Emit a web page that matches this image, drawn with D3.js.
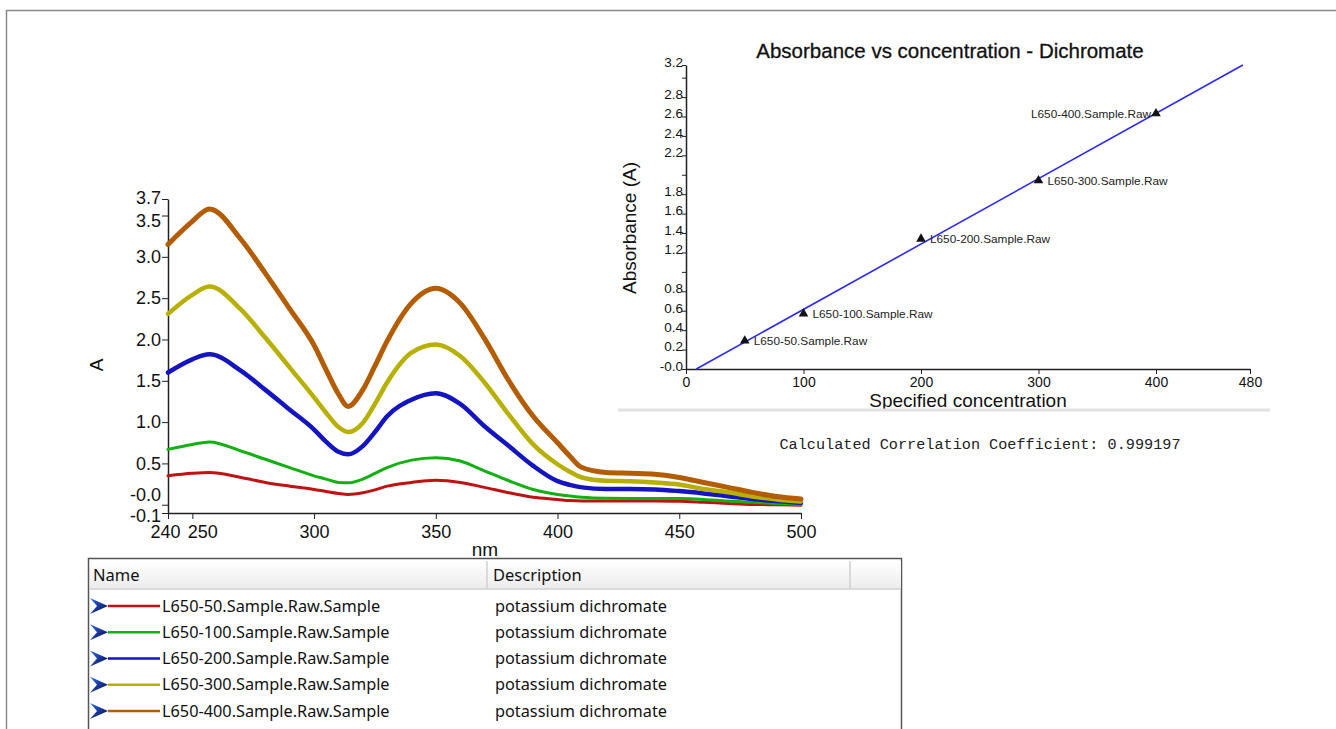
<!DOCTYPE html>
<meta charset="utf-8">
<style>
body { margin: 0; background: #fff; }
svg { display: block; font-family: "Liberation Sans", Arial, sans-serif; }
.axis path, .axis line { stroke: #222; }
.axis text { fill: #111; }
.spec { fill: none; stroke-linejoin: round; stroke-linecap: round; }
.tbl { font-family: "Noto Sans", sans-serif; fill: #111; }
</style>
<head>
  <script src="https://d3js.org/d3.v7.min.js"></script>
</head>
<svg width="1336" height="729"></svg>
<script>

// ---- spectrum data (wavelength nm -> absorbance) ----
var wavelengths = [240,250,257,270,280,290,300,305,310,314,320,325,330,340,350,360,370,380,390,400,405,410,420,430,440,450,460,470,480,490,500];
var a50  = [0.35,0.38,0.39,0.33,0.27,0.225,0.185,0.16,0.137,0.125,0.145,0.18,0.225,0.27,0.295,0.27,0.21,0.145,0.09,0.064,0.05,0.044,0.044,0.044,0.044,0.042,0.03,0.016,0.004,0.0,-0.005];
var a100 = [0.67,0.73,0.76,0.65,0.55,0.45,0.35,0.31,0.27,0.265,0.31,0.38,0.45,0.54,0.57,0.53,0.41,0.29,0.185,0.125,0.105,0.09,0.078,0.076,0.075,0.074,0.064,0.044,0.03,0.016,0.004];
var a200 = [1.60,1.76,1.82,1.62,1.39,1.15,0.91,0.76,0.64,0.61,0.71,0.88,1.07,1.27,1.35,1.22,0.95,0.71,0.47,0.285,0.24,0.21,0.19,0.19,0.185,0.165,0.137,0.104,0.07,0.044,0.024];
var a300 = [2.31,2.54,2.64,2.36,2.02,1.66,1.30,1.11,0.94,0.88,0.99,1.22,1.48,1.84,1.94,1.80,1.48,1.09,0.73,0.49,0.40,0.33,0.29,0.285,0.27,0.245,0.19,0.15,0.10,0.064,0.04];
var a400 = [3.15,3.43,3.58,3.21,2.80,2.37,1.93,1.63,1.34,1.19,1.39,1.68,1.98,2.44,2.62,2.44,2.01,1.50,1.07,0.75,0.59,0.45,0.39,0.38,0.37,0.33,0.27,0.21,0.15,0.10,0.07];

var sampleNames = ["L650-50.Sample.Raw.Sample","L650-100.Sample.Raw.Sample","L650-200.Sample.Raw.Sample","L650-300.Sample.Raw.Sample","L650-400.Sample.Raw.Sample"];
var descriptions = ["potassium dichromate","potassium dichromate","potassium dichromate","potassium dichromate","potassium dichromate"];
var lineColors = ["#c01212","#12b012","#1414c0","#b8b000","#b35c00"];
var lineWidths = [3,3,4.5,4.5,5];

var specXTicks = [240,250,300,350,400,450,500];
var specYTicks = [-0.1,0,0.5,1.0,1.5,2.0,2.5,3.0,3.5,3.7];
var specYLabels = ["-0.1","-0.0","0.5","1.0","1.5","2.0","2.5","3.0","3.5","3.7"];

// ---- calibration data ----
var concentrations = [50,100,200,300,400];
var absorbances = [0.29,0.57,1.34,1.94,2.63];
var pointLabels = ["L650-50.Sample.Raw","L650-100.Sample.Raw","L650-200.Sample.Raw","L650-300.Sample.Raw","L650-400.Sample.Raw"];
var calXTicks = [0,100,200,300,400,480];
var calYTicks = [0,0.2,0.4,0.6,0.8,1.0,1.2,1.4,1.6,1.8,2.0,2.2,2.4,2.6,2.8,3.0,3.13];
var calYLabels = ["-0.0","0.2","0.4","0.6","0.8","","1.2","1.4","1.6","1.8","","2.2","2.4","2.6","2.8","","3.2"];
var correlation = "0.999197";

var svg = d3.select("svg");

// page frame
svg.append("line").attr("x1", 6).attr("x2", 1336).attr("y1", 10.5).attr("y2", 10.5)
   .attr("stroke", "#8a8a8a").attr("stroke-width", 1.5);
svg.append("line").attr("x1", 6.5).attr("x2", 6.5).attr("y1", 10).attr("y2", 729)
   .attr("stroke", "#8a8a8a").attr("stroke-width", 1.5);

// ================= spectrum chart =================
var x = d3.scaleLinear().domain([240, 500]).range([168, 801]);
var y = d3.scaleLinear().domain([-0.1, 3.7]).range([513, 199]);

var specSeries = [a50, a100, a200, a300, a400];

var line = d3.line()
    .x(function(d, i) { return x(wavelengths[i]); })
    .y(function(d) { return y(d); })
    .curve(d3.curveMonotoneX);

// crowded labels are nudged apart like in the instrument software
var xNudge = {240: -3, 250: 10};
var yNudge = {"-0.1": 3, "0": -10, "3.5": 5, "3.7": -1};

svg.append("g")
    .attr("class", "axis")
    .attr("transform", "translate(0," + y(-0.1) + ")")
    .call(d3.axisBottom(x).tickValues(specXTicks).tickSize(6).tickSizeOuter(0).tickFormat(d3.format("d")))
    .call(function(g) {
      g.selectAll("text").attr("font-size", 18).attr("dy", "0.9em")
       .attr("dx", function(d) { return xNudge[d] || 0; });
    })
    .call(function(g) { g.select(".domain").attr("stroke-width", 1.5); });

svg.append("g")
    .attr("class", "axis")
    .attr("transform", "translate(" + x(240) + ",0)")
    .call(d3.axisLeft(y).tickValues(specYTicks).tickSize(6).tickSizeOuter(0)
          .tickFormat(function(d, i) { return specYLabels[i]; }))
    .call(function(g) {
      g.selectAll("text").attr("font-size", 18).attr("x", -7)
       .attr("y", function(d) { return yNudge[String(d)] || 0; });
    })
    .call(function(g) { g.select(".domain").attr("stroke-width", 1.5); });

svg.append("text")
    .attr("transform", "translate(103,365) rotate(-90)")
    .attr("text-anchor", "middle")
    .attr("font-size", 19)
    .attr("fill", "#111")
    .text("A");

svg.append("text")
    .attr("x", 485).attr("y", 556)
    .attr("text-anchor", "middle")
    .attr("font-size", 19)
    .attr("fill", "#111")
    .text("nm");

svg.selectAll(".spec")
  .data(specSeries)
  .enter().append("path")
    .attr("class", "spec")
    .attr("stroke", function(d, i) { return lineColors[i]; })
    .attr("stroke-width", function(d, i) { return lineWidths[i]; })
    .attr("d", line);

// ================= calibration inset =================
var cx = d3.scaleLinear().domain([0, 480]).range([686, 1250]);
var cy = d3.scaleLinear().domain([0, 3.13]).range([369, 65]);

svg.append("text")
    .attr("x", 950).attr("y", 58)
    .attr("text-anchor", "middle")
    .attr("font-size", 20.5)
    .attr("fill", "#111")
    .attr("stroke", "#111").attr("stroke-width", 0.3)
    .text("Absorbance vs concentration - Dichromate");

svg.append("g")
    .attr("class", "axis")
    .attr("transform", "translate(0," + cy(0) + ")")
    .call(d3.axisBottom(cx).tickValues(calXTicks).tickSize(5).tickSizeOuter(0).tickFormat(d3.format("d")))
    .call(function(g) { g.selectAll("text").attr("font-size", 14).attr("dy", "0.7em"); })
    .call(function(g) { g.select(".domain").attr("stroke-width", 1.5); });

svg.append("g")
    .attr("class", "axis")
    .attr("transform", "translate(" + cx(0) + ",0)")
    .call(d3.axisLeft(cy).tickValues(calYTicks).tickSize(4).tickSizeOuter(0)
          .tickFormat(function(d, i) { return calYLabels[i]; }))
    .call(function(g) { g.selectAll("text").attr("font-size", 13.5).attr("x", -3).attr("dy", "0.1em"); })
    .call(function(g) { g.select(".domain").attr("stroke-width", 1.5); });

svg.append("text")
    .attr("transform", "translate(636,228) rotate(-90)")
    .attr("text-anchor", "middle")
    .attr("font-size", 19)
    .attr("fill", "#111")
    .text("Absorbance (A)");

svg.append("text")
    .attr("x", 968).attr("y", 407)
    .attr("text-anchor", "middle")
    .attr("font-size", 19)
    .attr("fill", "#111")
    .text("Specified concentration");

// least squares fit through the standards
var mx = d3.mean(concentrations), my = d3.mean(absorbances);
var sxy = d3.sum(concentrations, function(c, i) { return (c - mx) * (absorbances[i] - my); });
var sxx = d3.sum(concentrations, function(c) { return (c - mx) * (c - mx); });
var slope = sxy / sxx, intercept = my - slope * mx;
var fitX = [-intercept / slope, (3.13 - intercept) / slope];

svg.append("line")
    .attr("x1", cx(fitX[0])).attr("y1", cy(slope * fitX[0] + intercept))
    .attr("x2", cx(fitX[1])).attr("y2", cy(slope * fitX[1] + intercept))
    .attr("stroke", "#2a2af0")
    .attr("stroke-width", 1.6);

var pts = svg.selectAll(".pt")
  .data(concentrations)
  .enter().append("g")
    .attr("class", "pt")
    .attr("transform", function(d, i) { return "translate(" + cx(d) + "," + cy(absorbances[i]) + ")"; });

pts.append("path")
    .attr("d", d3.symbol().type(d3.symbolTriangle).size(40))
    .attr("fill", "#111");

pts.append("text")
    .attr("x", function(d, i) { return i === 4 ? -5 : 9; })
    .attr("y", 4)
    .attr("text-anchor", function(d, i) { return i === 4 ? "end" : "start"; })
    .attr("font-size", 11.8)
    .attr("fill", "#222")
    .text(function(d, i) { return pointLabels[i]; });

svg.append("line")
    .attr("x1", 618).attr("x2", 1270).attr("y1", 410).attr("y2", 410)
    .attr("stroke", "#e2e2e2").attr("stroke-width", 3);

svg.append("text")
    .attr("x", 980).attr("y", 449)
    .attr("text-anchor", "middle")
    .attr("font-family", "'Liberation Mono', 'Courier New', monospace")
    .attr("font-size", 15.2)
    .attr("fill", "#222")
    .text("Calculated Correlation Coefficient: " + correlation);

// ================= sample table =================
var defs = svg.append("defs");
var hg = defs.append("linearGradient").attr("id", "hdr").attr("x1", 0).attr("x2", 0).attr("y1", 0).attr("y2", 1);
hg.append("stop").attr("offset", "0%").attr("stop-color", "#ffffff");
hg.append("stop").attr("offset", "100%").attr("stop-color", "#ececec");
var ag = defs.append("linearGradient").attr("id", "arr").attr("x1", 0).attr("x2", 1).attr("y1", 0).attr("y2", 1);
ag.append("stop").attr("offset", "0%").attr("stop-color", "#2f6cff");
ag.append("stop").attr("offset", "100%").attr("stop-color", "#050530");

svg.append("rect")
    .attr("x", 88.5).attr("y", 558.5).attr("width", 813).attr("height", 190)
    .attr("fill", "#fff").attr("stroke", "#555").attr("stroke-width", 1.5);

svg.append("rect")
    .attr("x", 90).attr("y", 561).attr("width", 811).attr("height", 28)
    .attr("fill", "url(#hdr)");
svg.append("line").attr("x1", 90).attr("x2", 901).attr("y1", 589).attr("y2", 589)
    .attr("stroke", "#dadada").attr("stroke-width", 2);
[487, 850].forEach(function(sx) {
  svg.append("line").attr("x1", sx).attr("x2", sx).attr("y1", 561).attr("y2", 589)
     .attr("stroke", "#d0d0d0").attr("stroke-width", 1.5);
});

svg.append("text").attr("class", "tbl").attr("x", 93).attr("y", 581).attr("font-size", 16.5).text("Name");
svg.append("text").attr("class", "tbl").attr("x", 493).attr("y", 581).attr("font-size", 16.5).text("Description");

var rowY = d3.scalePoint().domain(sampleNames).range([606, 711]);

var rows = svg.selectAll(".row")
  .data(sampleNames)
  .enter().append("g")
    .attr("class", "row")
    .attr("transform", function(d) { return "translate(0," + rowY(d) + ")"; });

rows.append("path")
    .attr("d", "M90,-8 L108,0 L90,8 L97,0 Z")
    .attr("fill", "url(#arr)");

rows.append("line")
    .attr("x1", 108).attr("x2", 160).attr("y1", 0).attr("y2", 0)
    .attr("stroke", function(d, i) { return lineColors[i]; })
    .attr("stroke-width", 2.5);

rows.append("text")
    .attr("class", "tbl")
    .attr("x", 162).attr("y", 5.5)
    .attr("font-size", 16.3)
    .text(function(d) { return d; });

rows.append("text")
    .attr("class", "tbl")
    .attr("x", 495).attr("y", 5.5)
    .attr("font-size", 16.3)
    .text(function(d, i) { return descriptions[i]; });

</script>
